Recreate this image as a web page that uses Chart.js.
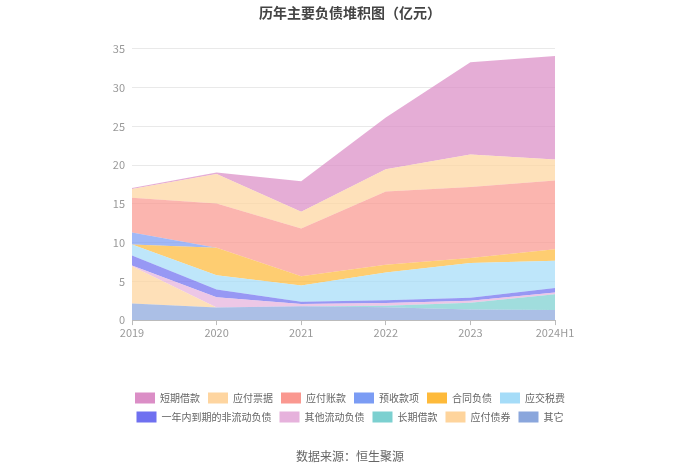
<!DOCTYPE html>
<html>
<head>
<meta charset="utf-8">
<script src="https://cdn.jsdelivr.net/npm/chart.js@4/dist/chart.umd.min.js"></script>
<style>
  html, body { margin: 0; padding: 0; background: #fff; }
  .chart-container { width: 700px; height: 474px; }
</style>
</head>
<body>
<div class="chart-container"><canvas id="debtChart"></canvas></div>
<script>
// 年份
const years = ['2019', '2020', '2021', '2022', '2023', '2024H1'];

// 各项负债（亿元），从下往上堆积
const qita = [2.15, 1.64, 1.8, 1.65, 1.38, 1.3];            // 其它
const yingfuZhaiquan = [4.8, 0, 0, 0, 0, 0];                 // 应付债券
const changqiJiekuan = [0, 0, 0, 0.2, 0.85, 2.05];           // 长期借款
const qitaLiudong = [0.1, 1.3, 0.27, 0.35, 0.26, 0.2];       // 其他流动负债
const yinianNei = [1.3, 1.0, 0.3, 0.35, 0.38, 0.6];          // 一年内到期的非流动负债
const yingjiaoShuifei = [1.4, 1.85, 2.1, 3.6, 4.5, 3.5];     // 应交税费
const hetongFuzhai = [0, 3.55, 1.2, 1.0, 0.65, 1.5];         // 合同负债
const yushouKuanxiang = [1.55, 0, 0, 0, 0, 0];               // 预收款项
const yingfuZhangkuan = [4.5, 5.7, 6.15, 9.45, 9.15, 8.87];  // 应付账款
const yingfuPiaoju = [1.1, 3.8, 2.15, 2.85, 4.2, 2.7];       // 应付票据
const duanqiJiekuan = [0.15, 0.2, 3.95, 6.7, 11.9, 13.35];   // 短期借款

const yTicks = [0, 5, 10, 15, 20, 25, 30, 35];

const series = [
    { label: '其它', data: qita, color: '#8aa6dc' },
    { label: '应付债券', data: yingfuZhaiquan, color: '#fed49c' },
    { label: '长期借款', data: changqiJiekuan, color: '#7cd0d0' },
    { label: '其他流动负债', data: qitaLiudong, color: '#e6b2dc' },
    { label: '一年内到期的非流动负债', data: yinianNei, color: '#6f70f0' },
    { label: '应交税费', data: yingjiaoShuifei, color: '#a5dcf8' },
    { label: '合同负债', data: hetongFuzhai, color: '#feba3a' },
    { label: '预收款项', data: yushouKuanxiang, color: '#7b9cf4' },
    { label: '应付账款', data: yingfuZhangkuan, color: '#fa9890' },
    { label: '应付票据', data: yingfuPiaoju, color: '#fed5a0' },
    { label: '短期借款', data: duanqiJiekuan, color: '#db8ec6' }
];

function withAlpha(hex, a) {
    const n = parseInt(hex.slice(1), 16);
    return 'rgba(' + (n >> 16) + ',' + ((n >> 8) & 255) + ',' + (n & 255) + ',' + a + ')';
}

const font = '"Noto Sans CJK SC", "Noto Sans", sans-serif';

const ctx = document.getElementById('debtChart').getContext('2d');
const myChart = new Chart(ctx, {
    type: 'line',
    data: {
        labels: years,
        datasets: series.map((s, i) => ({
            label: s.label,
            data: s.data,
            baseColor: s.color,
            backgroundColor: withAlpha(s.color, 0.72),
            borderColor: 'rgba(0,0,0,0)',
            borderWidth: 0,
            pointRadius: 0,
            pointHoverRadius: 0,
            tension: 0,
            fill: i === 0 ? 'origin' : '-1'
        }))
    },
    options: {
        responsive: true,
        maintainAspectRatio: false,
        animation: false,
        layout: { padding: { left: 110, right: 110, top: 0, bottom: 0 } },
        plugins: {
            title: {
                display: true,
                text: '历年主要负债堆积图（亿元）',
                color: '#444',
                font: { family: font, size: 14, weight: 'bold', lineHeight: 1.2 },
                padding: { top: 4, bottom: 28 }
            },
            subtitle: {
                display: true,
                position: 'bottom',
                text: '数据来源：恒生聚源',
                color: '#666',
                font: { family: font, size: 12, lineHeight: 1.2 },
                padding: { top: 17, bottom: 10 }
            },
            legend: {
                position: 'bottom',
                reverse: true,
                labels: {
                    boxWidth: 20,
                    boxHeight: 11,
                    padding: 8,
                    useBorderRadius: true,
                    borderRadius: 3,
                    color: '#666',
                    font: { family: font, size: 10 },
                    generateLabels(chart) {
                        return chart.data.datasets.map((ds, i) => ({
                            text: ds.label,
                            fillStyle: ds.baseColor,
                            strokeStyle: ds.baseColor,
                            lineWidth: 0,
                            hidden: !chart.isDatasetVisible(i),
                            datasetIndex: i,
                            fontColor: '#666'
                        }));
                    }
                }
            },
            tooltip: { enabled: false }
        },
        scales: {
            x: {
                offset: false,
                grid: { drawOnChartArea: false, drawTicks: true, tickLength: 5, color: '#bbb' },
                border: { display: true, color: '#bbb' },
                ticks: { color: '#999', padding: 1, maxRotation: 0, font: { family: font, size: 11 } },
                afterFit(scale) { scale.height = 64.5; }
            },
            y: {
                stacked: true,
                min: 0,
                max: 35,
                afterBuildTicks(scale) { scale.ticks = yTicks.map(v => ({ value: v })); },
                grid: { color: '#e9e9e9', drawTicks: false },
                border: { display: false },
                ticks: { color: '#999', padding: 7, font: { family: font, size: 11 } },
                afterFit(scale) { scale.width = 22; }
            },
            yRight: {
                position: 'right',
                display: true,
                grid: { display: false, drawTicks: false },
                border: { display: false },
                ticks: { display: false },
                afterFit(scale) { scale.width = 35; }
            }
        }
    }
});
</script>
</body>
</html>
